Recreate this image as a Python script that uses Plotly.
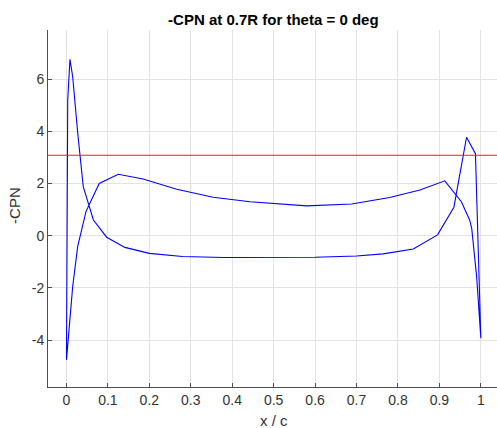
import plotly.graph_objects as go

# Chordwise stations and -CPN, traced once around the section:
# trailing edge -> pressure-side branch -> leading edge -> suction-side branch -> trailing edge
x_c = [1.0, 0.99, 0.978, 0.973, 0.953, 0.913, 0.853, 0.78, 0.688, 0.58, 0.443, 0.354,
       0.266, 0.185, 0.125, 0.079, 0.047, 0.027, 0.015, 0.0,
       0.003, 0.0084, 0.015, 0.027, 0.0405, 0.065, 0.097, 0.141, 0.2, 0.28, 0.38,
       0.5, 0.6, 0.7, 0.764, 0.837, 0.8955, 0.935, 0.9655, 0.987, 1.0]
neg_cpn = [-3.93, -1.6, 0.28, 0.6, 1.30, 2.10, 1.75, 1.46, 1.21, 1.14, 1.30, 1.47,
           1.78, 2.17, 2.35, 2.0, 0.92, -0.42, -1.95, -4.76,
           5.2, 6.76, 6.09, 3.95, 1.88, 0.6, -0.06, -0.45, -0.68, -0.80, -0.84,
           -0.84, -0.83, -0.78, -0.70, -0.51, 0.03, 1.09, 3.77, 3.14, -3.93]

# Horizontal reference level
ref_level = 3.08
x_ticks = [0, 0.1, 0.2, 0.3, 0.4, 0.5, 0.6, 0.7, 0.8, 0.9, 1]
x_tick_text = ["0", "0.1", "0.2", "0.3", "0.4", "0.5", "0.6", "0.7", "0.8", "0.9", "1"]
y_ticks = [-4, -2, 0, 2, 4, 6]
y_tick_text = ["-4", "-2", "0", "2", "4", "6"]

x_range = [-0.0446, 1.039]
y_range = [-5.8, 7.88]

FONT = "Liberation Sans, Arial, sans-serif"

fig = go.Figure()
fig.add_trace(go.Scatter(x=x_c, y=neg_cpn, mode="lines",
                         line=dict(color="#0000ff", width=1.1), showlegend=False))
fig.add_trace(go.Scatter(x=x_range, y=[ref_level, ref_level], mode="lines",
                         line=dict(color="#e8201c", width=1), showlegend=False))

axis_common = dict(
    showgrid=True, gridcolor="#e3e3e3", gridwidth=1,
    zeroline=False, showline=True, linecolor="#4d4d4d", linewidth=1,
    ticks="inside", ticklen=4, tickcolor="#4d4d4d",
    tickfont=dict(family=FONT, size=14, color="#333333"),
    automargin=False,
)

label_font = dict(family=FONT, size=15, color="#333333")

fig.update_layout(
    width=497, height=428,
    margin=dict(l=48, r=0, t=30, b=41),
    paper_bgcolor="white", plot_bgcolor="white",
    title=dict(text="<b>-CPN at 0.7R for theta = 0 deg</b>", x=0.550, xanchor="center",
               y=0.953, yanchor="middle",
               font=dict(family=FONT, size=15, color="#000000")),
    xaxis=dict(range=x_range, tickvals=x_ticks, ticktext=x_tick_text, **axis_common),
    yaxis=dict(range=y_range, tickvals=y_ticks, ticktext=y_tick_text, **axis_common),
    annotations=[
        # axis labels
        dict(text="x / c", xref="paper", yref="paper", x=0.503, y=-0.0952,
             xanchor="center", yanchor="middle", showarrow=False, font=label_font),
        dict(text="-CPN", xref="paper", yref="paper", x=-0.0735, y=0.51,
             xanchor="center", yanchor="middle", showarrow=False, textangle=-90,
             font=label_font),
    ],
)

fig.write_html("out.html")
